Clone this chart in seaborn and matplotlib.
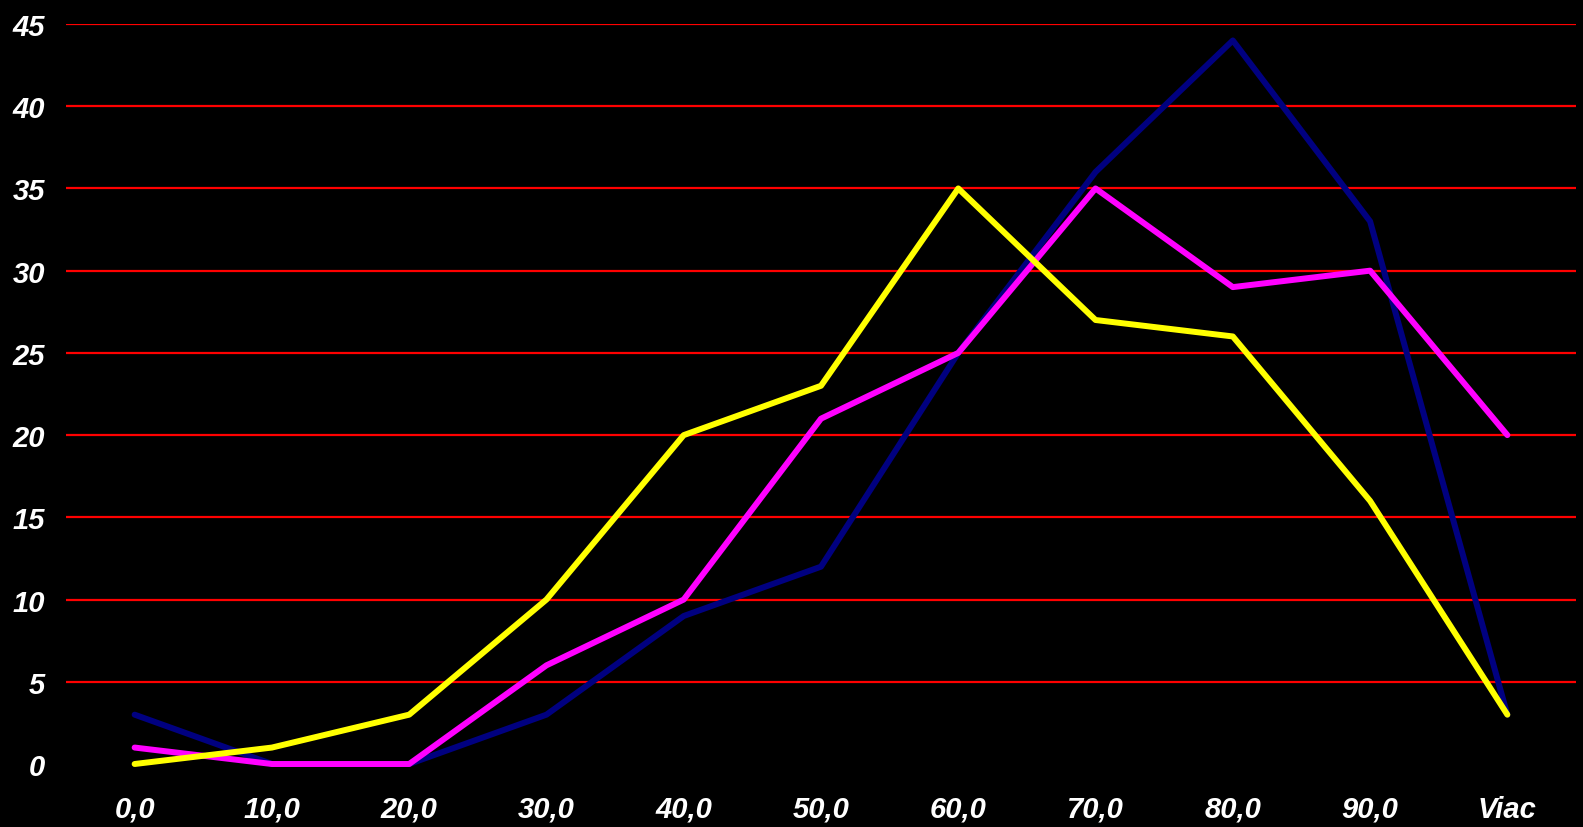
import pandas as pd
import numpy as np
import matplotlib
matplotlib.use("Agg")
import matplotlib.pyplot as plt
import seaborn as sns

# Kategórie (triedy) a hodnoty troch sérií
kategorie = ["0,0", "10,0", "20,0", "30,0", "40,0", "50,0", "60,0", "70,0", "80,0", "90,0", "Viac"]
seria_modra = [3, 0, 0, 3, 9, 12, 25, 36, 44, 33, 3]
seria_ruzova = [1, 0, 0, 6, 10, 21, 25, 35, 29, 30, 20]
seria_zlta = [0, 1, 3, 10, 20, 23, 35, 27, 26, 16, 3]
y_ticky = [0, 5, 10, 15, 20, 25, 30, 35, 40, 45]

sns.set_style("white")
plt.rcParams['font.family'] = ['Liberation Sans', 'DejaVu Sans']

# Dlhý formát pre seaborn
poz = np.arange(len(kategorie))
df = pd.concat([
    pd.DataFrame({"x": poz, "y": seria_modra, "seria": "modra"}),
    pd.DataFrame({"x": poz, "y": seria_ruzova, "seria": "ruzova"}),
    pd.DataFrame({"x": poz, "y": seria_zlta, "seria": "zlta"}),
])
farby = {"modra": "#000080", "ruzova": "#FF00FF", "zlta": "#FFFF00"}

fig = plt.figure(figsize=(15.83, 8.28), dpi=100, facecolor="black")
ax = fig.add_axes([66 / 1583, 1 - 765 / 828, 1510 / 1583, 740 / 828])
ax.set_facecolor("black")

# Červené vodorovné mriežky (bez nulovej čiary)
for v in y_ticky[1:]:
    ax.axhline(v, color="#FF0000", linewidth=1.6, zorder=1)

sns.lineplot(data=df, x="x", y="y", hue="seria", palette=farby,
             linewidth=4.3, legend=False, ax=ax, zorder=3)
for ln in ax.get_lines():
    if ln.get_linewidth() > 3:
        ln.set_solid_capstyle("round")
        ln.set_clip_on(False)

ax.set_xlim(-0.5, len(kategorie) - 0.5)
ax.set_ylim(0, 45)
ax.set_xticks(poz)
ax.set_xticklabels(kategorie)
ax.set_yticks(y_ticky)
ax.set_yticklabels([str(v) for v in y_ticky])
ax.tick_params(axis="both", length=0, colors="white", labelsize=21)
ax.tick_params(axis="y", pad=15)
ax.tick_params(axis="x", pad=22)
for lab in ax.get_xticklabels() + ax.get_yticklabels():
    lab.set_fontweight("bold")
    lab.set_fontstyle("italic")
ax.set_xlabel("")
ax.set_ylabel("")
for s in ax.spines.values():
    s.set_visible(False)

fig.savefig("out.png", dpi=100, facecolor="black")
